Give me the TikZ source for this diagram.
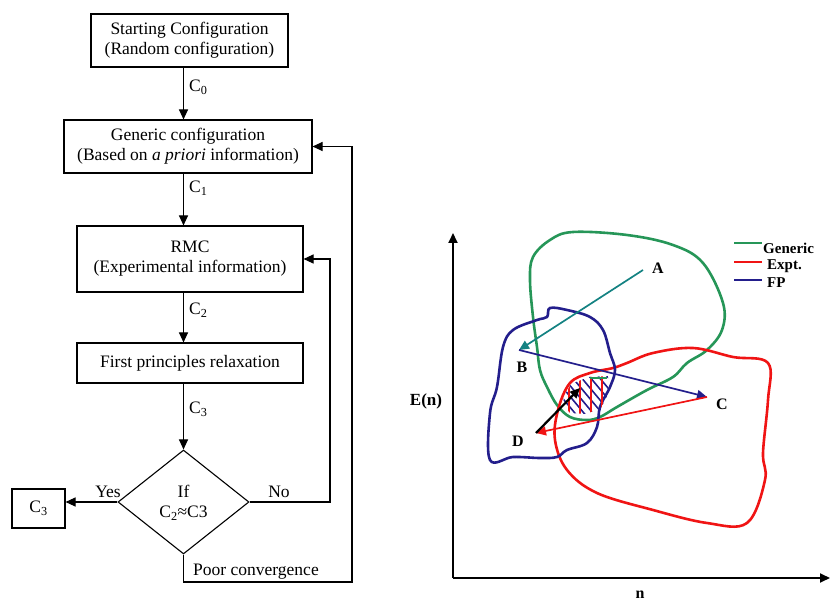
\documentclass[tikz,border=0pt]{standalone}
\usepackage{fontspec}
\setmainfont{Liberation Serif}
\usetikzlibrary{arrows.meta,shapes.geometric}
\definecolor{cgreen}{RGB}{38,150,88}
\definecolor{cred}{RGB}{240,20,20}
\definecolor{cblue}{RGB}{35,30,140}
\definecolor{cteal}{RGB}{20,130,130}
\begin{document}
\begin{tikzpicture}[x=1pt,y=-1pt,
  box/.style={draw,line width=1.1pt,inner sep=0pt,align=center,font=\fontsize{17.5}{20}\selectfont},
  flow/.style={line width=1.1pt,-{Triangle[length=10pt,width=9pt]}},
  lab/.style={font=\fontsize{17.5}{20}\selectfont,inner sep=1pt},
  blab/.style={font=\fontsize{16}{19}\selectfont\bfseries,inner sep=1pt},
  curve/.style={line width=2.6pt,smooth cycle,tension=0.6},
  parrow/.style={line width=1.7pt,-{Triangle[length=10pt,width=9pt]}}]
\useasboundingbox (0,0) rectangle (831,601);
% ---------------- flowchart ----------------
\node[box,minimum width=197pt,minimum height=53pt] (b1) at (189.5,40.5) {Starting Configuration\\(Random configuration)};
\node[box,minimum width=248pt,minimum height=53pt] (b2) at (188,146.5) {Generic configuration\\(Based on \textit{a priori} information)};
\node[box,minimum width=226pt,minimum height=66pt] (b3) at (190,259) {RMC\\(Experimental information)};
\node[box,minimum width=226pt,minimum height=40pt] (b4) at (190,363) {First principles relaxation};
\node[box,diamond,minimum width=131pt,minimum height=104pt] (dm) at (183.5,502) {};
\node[lab] (dif) at (183.5,491) {If};
\node[lab] (dcond) at (183.5,513) {C\textsubscript{2}≈C3};
\node[box,minimum width=53pt,minimum height=39pt] (b5) at (38.5,508.5) {C\textsubscript{3}};
\coordinate (cNo) at (330,502);
\coordinate (cPoorA) at (183.5,582);
\coordinate (cPoorB) at (352,582);

\draw[flow] (b1.south -| dm.north) -- (b2.north -| dm.north);
\draw[flow] (b2.south -| dm.north) -- (b3.north -| dm.north);
\draw[flow] (b3.south -| dm.north) -- (b4.north -| dm.north);
\draw[flow] (b4.south -| dm.north) -- (dm.north);
\draw[flow] (dm.west) -- (dm.west -| b5.east);
\draw[flow] (dm.east) -- (cNo) -- (cNo |- b3.east) -- (b3.east);
\draw[flow] (dm.south) -- (cPoorA) -- (cPoorB) -- (cPoorB |- b2.east) -- (b2.east);

\node[lab,anchor=west] (l0) at (188,87) {C\textsubscript{0}};
\node[lab,anchor=west] (l1) at (188,188) {C\textsubscript{1}};
\node[lab,anchor=west] (l2) at (188,310) {C\textsubscript{2}};
\node[lab,anchor=west] (l3) at (188,409) {C\textsubscript{3}};
\node[lab] (lyes) at (108,492) {Yes};
\node[lab] (lno) at (279,492) {No};
\node[lab] (lpoor) at (256,572) {Poor convergence};

% ---------------- energy landscape ----------------
\coordinate (org) at (453,578);
\coordinate (ytop) at (453,233);
\coordinate (xend) at (830,578);
\draw[line width=1.8pt,-{Triangle[length=10pt,width=9pt]}] (org) -- (ytop);
\draw[line width=1.8pt,-{Triangle[length=10pt,width=9pt]}] (org) -- (xend);
\node[font=\fontsize{17}{20}\selectfont\bfseries] (En) at (426,401) {E(n)};
\node[font=\fontsize{16}{19}\selectfont\bfseries] (nlab) at (640,595) {n};

% generic (green)
\draw[cgreen,curve] plot coordinates {(573,232) (627,235) (673,245) (703,263) (723,303) (722,330) (707,350) (687,363) (673,377) (647,390) (617,407) (600,417) (587,420) (570,417) (557,405) (547,387) (540,370) (537,347) (533,317) (530,280) (533,257) (550,240)};
% expt (red)
\draw[cred,curve] plot coordinates {(627,363) (653,353) (693,348) (733,357) (768,363) (768,400) (763,453) (765,480) (747,523) (707,523) (653,510) (597,493) (567,470) (555,440) (558,410) (570,383) (590,373) (613,368)};
% FP (blue)
\draw[cblue,curve] plot coordinates {(550,308) (567,310) (590,317) (603,330) (610,353) (615,370) (610,387) (600,407) (597,427) (587,443) (567,450) (557,457) (540,458) (513,457) (490,460) (490,413) (497,387) (503,347) (513,330) (537,320) (547,317)};

% hatched overlap
\begin{scope}
\clip (564,396) -- (571,384) -- (589,377) -- (608,376) -- (608,394) -- (601,408) -- (586,414) -- (570,413) -- (563,405) -- cycle;
\foreach \xx in {530,539,...,620} {
  \draw[cblue,line width=1.6pt] (\xx,370) -- (\xx+40,418);
}
\foreach \xx in {569,580,591,602} {
  \draw[cred,line width=1.4pt] (\xx,372) -- (\xx,418);
}
\end{scope}
\draw[cgreen,line width=1.6pt] (590,378) -- (607,378);

\coordinate (pA) at (643,270);
\coordinate (pB) at (519,350);
\coordinate (pC) at (707,397);
\coordinate (pD) at (536,433);
\coordinate (pE) at (580,388);
\draw[cteal,parrow] (pA) -- (pB);
\draw[cblue,parrow] (pB) -- (pC);
\draw[cred,parrow] (pC) -- (pD);
\draw[black,parrow,line width=2.2pt] (pD) -- (pE);
\node[blab] (tA) at (658,268) {A};
\node[blab] (tB) at (522,367) {B};
\node[blab] (tC) at (722,404) {C};
\node[blab] (tD) at (518,441) {D};

% legend
\coordinate (g1) at (734,243); \coordinate (g2) at (762,243);
\coordinate (r1) at (734,262); \coordinate (r2) at (762,262);
\coordinate (f1) at (734,280); \coordinate (f2) at (762,280);
\draw[cgreen,line width=2.2pt] (g1) -- (g2);
\draw[cred,line width=2.2pt] (r1) -- (r2);
\draw[cblue,line width=2.2pt] (f1) -- (f2);
\node[font=\fontsize{15}{18}\selectfont\bfseries,anchor=west,inner sep=0pt] (tg) at (763,248) {Generic};
\node[font=\fontsize{15}{18}\selectfont\bfseries,anchor=west,inner sep=0pt] (tr) at (767,266) {Expt.};
\node[font=\fontsize{15}{18}\selectfont\bfseries,anchor=west,inner sep=0pt] (tf) at (767,283) {FP};
\end{tikzpicture}
\end{document}
